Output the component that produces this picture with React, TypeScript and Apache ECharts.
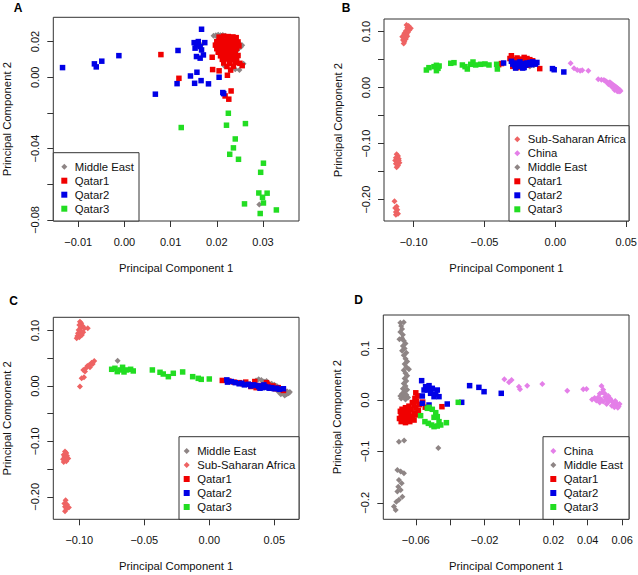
import React, { useEffect, useRef } from 'react';
import * as echarts from 'echarts';

type P = [number, number][];

const FONT = '"Liberation Sans", Arial, Helvetica, sans-serif';

const C_ME = '#8E8585';
const C_SSA = '#EE6363';
const C_CHINA = '#E47FE8';
const C_Q1 = '#F00000';
const C_Q2 = '#0000E6';
const C_Q3 = '#22DD22';

// ---------- Panel A ----------
const aMiddleEast: P = [
  [0.0193, 0.0232], [0.0198, 0.0236], [0.0203, 0.0238], [0.0208, 0.0235], [0.0213, 0.0237], [0.02, 0.0228], [0.0218, 0.0233],
  [0.025, 0.0188], [0.0255, 0.018], [0.0252, 0.017], [0.0246, 0.016], [0.0244, 0.015], [0.0237, 0.0148], [0.0245, 0.012],
  [0.0249, 0.0041], [0.0216, 0.0064], [0.024, 0.0045], [0.0166, 0.0181], [0.0292, -0.0714], [0.0258, 0.0075], [0.023, 0.013],
];
const aQatar1: P = [
  [0.0205, 0.0225], [0.0215, 0.023], [0.0225, 0.0228], [0.0235, 0.0226], [0.0242, 0.0222],
  [0.02, 0.02], [0.021, 0.0205], [0.0218, 0.0202], [0.0228, 0.0204], [0.0238, 0.02], [0.0246, 0.0198],
  [0.0197, 0.018], [0.0205, 0.0178], [0.0213, 0.0182], [0.0222, 0.018], [0.023, 0.0178], [0.024, 0.0182], [0.0248, 0.0176],
  [0.02, 0.016], [0.021, 0.0158], [0.022, 0.0162], [0.0228, 0.016], [0.0236, 0.0158], [0.0243, 0.0162],
  [0.0203, 0.014], [0.0212, 0.0142], [0.0221, 0.0138], [0.0232, 0.014], [0.024, 0.0138],
  [0.0208, 0.012], [0.0217, 0.0122], [0.0226, 0.0118], [0.0236, 0.012], [0.0246, 0.0122],
  [0.0212, 0.01], [0.0222, 0.0102], [0.0232, 0.0098], [0.0243, 0.01],
  [0.0215, 0.008], [0.0228, 0.0078], [0.024, 0.0082], [0.025, 0.0078],
  [0.0222, 0.006], [0.0236, 0.0062], [0.023, 0.004],
  [0.019, 0.0112], [0.0191, 0.0043], [0.0205, 0.0036], [0.0223, 0.0011], [0.0231, -0.0077], [0.0218, -0.0105],
  [0.0226, -0.0123], [0.0255, 0.0065], [0.0079, 0.0127], [0.0118, -0.0006],
];
const aQatar2: P = [
  [-0.0134, 0.0054], [-0.0065, 0.0075], [-0.0061, 0.0058], [-0.0049, 0.009], [-0.0012, 0.0121], [0.0067, -0.0095],
  [0.0116, 0.015], [0.0114, -0.0036], [0.0143, 0.0007], [0.0152, -0.0034], [0.0157, 0.0028], [0.0166, -0.0019],
  [0.0182, -0.0037], [0.0205, 0.0], [0.0167, 0.0269],
  [0.0151, 0.0194], [0.0156, 0.0181], [0.016, 0.02], [0.0164, 0.0172], [0.0153, 0.0163], [0.0174, 0.0194],
  [0.0167, 0.0153], [0.0156, 0.0116], [0.0164, 0.0107], [0.0171, 0.0125], [0.0213, -0.0086], [0.0215, -0.0092],
];
const aQatar3: P = [
  [0.0123, -0.0282], [0.0225, -0.0202], [0.0221, -0.0269], [0.0262, -0.026], [0.024, -0.0346], [0.0236, -0.0396],
  [0.0228, -0.0432], [0.0247, -0.046], [0.0301, -0.0482], [0.0295, -0.0533], [0.0291, -0.0649], [0.0309, -0.065],
  [0.0299, -0.0673], [0.0301, -0.0705], [0.026, -0.071], [0.0294, -0.0764], [0.0329, -0.0744],
];

// ---------- Panel B ----------
const bSubSaharan: P = [
  [-0.105, 0.112], [-0.1035, 0.11], [-0.1045, 0.107], [-0.102, 0.106], [-0.103, 0.103], [-0.1055, 0.101], [-0.104, 0.099],
  [-0.1065, 0.097], [-0.105, 0.095], [-0.107, 0.093], [-0.106, 0.09], [-0.1055, 0.087], [-0.1075, 0.085], [-0.1065, 0.082],
  [-0.107, 0.079], [-0.108, 0.091], [-0.1045, 0.092],
  [-0.112, -0.119], [-0.111, -0.122], [-0.1125, -0.125], [-0.1105, -0.127], [-0.113, -0.13], [-0.1115, -0.132],
  [-0.11, -0.134], [-0.1125, -0.136], [-0.111, -0.139], [-0.112, -0.142], [-0.1105, -0.13],
  [-0.1135, -0.203], [-0.112, -0.212], [-0.113, -0.215], [-0.1115, -0.218], [-0.1125, -0.222], [-0.111, -0.225], [-0.1125, -0.227],
];
const bChina: P = [
  [0.0108, 0.0435], [0.0132, 0.0345], [0.0155, 0.0315], [0.0175, 0.03], [0.019, 0.031], [0.0233, 0.03], [0.0303, 0.0149],
  [0.0325, 0.014], [0.0343, 0.0137],
  [0.036, 0.011], [0.037, 0.009], [0.038, 0.007], [0.0385, 0.0095], [0.039, 0.005], [0.0395, 0.0075], [0.04, 0.003],
  [0.0405, 0.0055], [0.041, 0.001], [0.0415, 0.0035], [0.042, -0.001], [0.0425, 0.002], [0.043, -0.003], [0.0435, 0.0],
  [0.044, -0.005], [0.0445, -0.002], [0.045, -0.007], [0.0455, -0.004], [0.046, -0.006], [0.0418, -0.004], [0.04, 0.001],
  [0.0375, 0.006], [0.0352, 0.012], [0.0437, -0.0065],
];
const bMiddleEast: P = [
  [-0.028, 0.042], [-0.025, 0.04], [-0.02, 0.042], [-0.018, 0.038], [-0.015, 0.04],
];
const bQatar1: P = [
  [-0.04, 0.041], [-0.038, 0.043], [-0.032, 0.052], [-0.031, 0.057], [-0.029, 0.05], [-0.03, 0.046], [-0.027, 0.053],
  [-0.026, 0.048], [-0.025, 0.044], [-0.024, 0.051], [-0.023, 0.047], [-0.022, 0.054], [-0.021, 0.049], [-0.02, 0.052],
  [-0.019, 0.046], [-0.018, 0.05], [-0.017, 0.044], [-0.016, 0.048], [-0.015, 0.043], [-0.03, 0.038], [-0.027, 0.036],
  [-0.011, 0.034], [-0.02, 0.04], [-0.023, 0.039],
];
const bQatar2: P = [
  [-0.0365, 0.044], [-0.031, 0.047], [-0.03, 0.042], [-0.0285, 0.039], [-0.0275, 0.044], [-0.026, 0.041], [-0.0245, 0.038],
  [-0.023, 0.035], [-0.022, 0.043], [-0.021, 0.04], [-0.02, 0.044], [-0.019, 0.042], [-0.018, 0.045], [-0.017, 0.041],
  [-0.016, 0.046], [-0.015, 0.044], [-0.014, 0.042], [-0.013, 0.045], [-0.025, 0.046], [-0.022, 0.036], [-0.002, 0.034],
  [-0.0008, 0.032], [0.006, 0.028], [-0.028, 0.035],
];
const bQatar3: P = [
  [-0.091, 0.0315], [-0.0892, 0.0357], [-0.0856, 0.0375], [-0.0839, 0.0399], [-0.0828, 0.0345], [-0.0839, 0.0304],
  [-0.082, 0.0387], [-0.0738, 0.0435], [-0.0715, 0.0446], [-0.0656, 0.0405], [-0.0637, 0.0375], [-0.0621, 0.0333],
  [-0.0597, 0.0417], [-0.0581, 0.0458], [-0.0562, 0.0405], [-0.0527, 0.0417], [-0.0496, 0.0423], [-0.0468, 0.0405],
  [-0.0409, 0.0333], [-0.0414, 0.0417],
];

// ---------- Panel C ----------
const cMiddleEast: P = [
  [-0.0705, 0.0457],
  [0.036, 0.01], [0.04, 0.011], [0.042, 0.008], [0.045, 0.006], [0.048, 0.004], [0.05, 0.002], [0.052, 0.0],
  [0.054, -0.003], [0.056, -0.006], [0.058, -0.008], [0.06, -0.01], [0.061, -0.013], [0.0595, -0.015], [0.057, -0.012],
  [0.055, -0.015], [0.062, -0.011], [0.053, -0.01], [0.044, 0.009], [0.038, 0.012], [0.058, -0.017],
];
const cSubSaharan: P = [
  [-0.0995, 0.116], [-0.0985, 0.113], [-0.1, 0.11], [-0.0975, 0.108], [-0.099, 0.105], [-0.096, 0.104], [-0.0935, 0.104],
  [-0.1005, 0.101], [-0.0985, 0.099], [-0.097, 0.097], [-0.101, 0.095], [-0.0995, 0.093], [-0.1015, 0.09], [-0.1, 0.088],
  [-0.102, 0.086], [-0.098, 0.092],
  [-0.0995, -0.001], [-0.0982, 0.0138], [-0.0964, 0.0156], [-0.0969, 0.0289], [-0.0949, 0.0319], [-0.0938, 0.0361],
  [-0.0923, 0.0379], [-0.0905, 0.0421], [-0.0885, 0.0451], [-0.0918, 0.0337], [-0.0897, 0.0397], [-0.0956, 0.0259],
  [-0.111, -0.118], [-0.11, -0.121], [-0.112, -0.124], [-0.1095, -0.126], [-0.1115, -0.128], [-0.1105, -0.13],
  [-0.1125, -0.132], [-0.1085, -0.131], [-0.111, -0.134], [-0.112, -0.137], [-0.11, -0.136],
  [-0.1105, -0.206], [-0.1115, -0.212], [-0.1095, -0.214], [-0.111, -0.218], [-0.108, -0.219], [-0.11, -0.222], [-0.111, -0.226],
];
const cQatar1: P = [
  [0.01, 0.01], [0.015, 0.009], [0.019, 0.007], [0.023, 0.006], [0.026, 0.004], [0.03, 0.003], [0.033, 0.002],
  [0.035, 0.008], [0.037, 0.0], [0.04, 0.001], [0.042, -0.002], [0.045, 0.003], [0.047, -0.004], [0.049, 0.0],
  [0.051, -0.005], [0.053, -0.003], [0.055, -0.006], [0.057, -0.008], [0.032, -0.001], [0.028, 0.007], [0.044, 0.006],
  [0.036, -0.003],
];
const cQatar2: P = [
  [0.0135, 0.011], [0.014, 0.007], [0.017, 0.008], [0.02, 0.006], [0.023, 0.004], [0.025, 0.005], [0.027, 0.002],
  [0.03, 0.003], [0.032, 0.0], [0.034, 0.002], [0.036, 0.001], [0.038, -0.001], [0.04, 0.0], [0.041, -0.003],
  [0.043, -0.001], [0.045, -0.002], [0.046, -0.004], [0.048, -0.003], [0.05, -0.005], [0.052, -0.004], [0.054, -0.006],
  [0.057, -0.005], [0.042, 0.002], [0.039, -0.004],
];
const cQatar3: P = [
  [-0.0751, 0.0301], [-0.0726, 0.0319], [-0.0708, 0.0259], [-0.0687, 0.0289], [-0.0667, 0.0337], [-0.0656, 0.0253],
  [-0.0636, 0.0289], [-0.0605, 0.0301], [-0.0585, 0.0271], [-0.0438, 0.0289], [-0.0379, 0.0247], [-0.0354, 0.0216],
  [-0.0315, 0.0168], [-0.0277, 0.0229], [-0.0205, 0.0253], [-0.0128, 0.0168], [-0.0085, 0.0138], [-0.0062, 0.012],
  [0.0, 0.0126],
];

// ---------- Panel D ----------
const dChina: P = [
  [-0.0085, 0.0402], [-0.0058, 0.0343], [-0.0043, 0.0389], [0.0, 0.0259], [0.0006, 0.0207], [0.0048, 0.0279],
  [0.0136, 0.0311], [0.0281, 0.0181], [0.0374, 0.0207], [0.0393, 0.0214],
  [0.048, 0.027], [0.049, 0.02], [0.047, 0.012], [0.046, 0.005], [0.044, 0.004], [0.0425, 0.001], [0.045, -0.001],
  [0.0475, 0.002], [0.05, 0.006], [0.051, 0.001], [0.049, -0.003], [0.052, -0.004], [0.054, -0.002], [0.053, 0.003],
  [0.055, -0.006], [0.056, -0.01], [0.057, -0.007], [0.058, -0.012], [0.0585, -0.008], [0.054, -0.011], [0.051, -0.008],
  [0.047, -0.005], [0.05, 0.012], [0.052, 0.008], [0.0555, -0.014], [0.0575, -0.015], [0.056, -0.002], [0.0485, 0.015],
];
const dMiddleEast: P = [
  [-0.069, 0.15], [-0.067, 0.151], [-0.0685, 0.144], [-0.068, 0.138], [-0.069, 0.132], [-0.0675, 0.127], [-0.068, 0.12],
  [-0.067, 0.115], [-0.066, 0.11], [-0.0675, 0.105], [-0.0665, 0.1], [-0.068, 0.096], [-0.0655, 0.092], [-0.067, 0.087],
  [-0.066, 0.08], [-0.065, 0.075], [-0.0665, 0.07], [-0.0655, 0.064], [-0.067, 0.058], [-0.066, 0.052], [-0.065, 0.047],
  [-0.0665, 0.042], [-0.0655, 0.037], [-0.067, 0.032], [-0.066, 0.027], [-0.0675, 0.022], [-0.065, 0.02], [-0.0665, 0.016],
  [-0.068, 0.012], [-0.0655, 0.01], [-0.067, 0.006], [-0.0685, 0.003], [-0.066, 0.001], [-0.0645, 0.005], [-0.069, 0.008],
  [-0.0695, 0.118], [-0.064, 0.06],
  [-0.0698, -0.081], [-0.0668, -0.079], [-0.0707, -0.136], [-0.0688, -0.139], [-0.0669, -0.1426], [-0.0698, -0.1555],
  [-0.0682, -0.162], [-0.0702, -0.1685], [-0.0688, -0.175], [-0.0707, -0.178], [-0.0698, -0.194], [-0.0713, -0.198],
  [-0.0727, -0.207], [-0.0717, -0.214], [-0.0469, -0.0933], [-0.0678, -0.188],
];
const dQatar1: P = [
  [-0.06, 0.014], [-0.059, 0.008], [-0.0605, 0.003], [-0.0595, -0.002], [-0.062, -0.005], [-0.061, -0.01], [-0.064, -0.012],
  [-0.066, -0.015], [-0.068, -0.018], [-0.069, -0.022], [-0.067, -0.024], [-0.065, -0.02], [-0.063, -0.018], [-0.06, -0.015],
  [-0.0585, -0.02], [-0.061, -0.025], [-0.064, -0.027], [-0.0665, -0.03], [-0.0685, -0.032], [-0.0695, -0.036],
  [-0.067, -0.038], [-0.0645, -0.035], [-0.062, -0.032], [-0.0595, -0.029], [-0.0635, -0.042], [-0.066, -0.044],
  [-0.0685, -0.042], [-0.061, -0.039], [-0.058, -0.009], [-0.0545, -0.014], [-0.0448, -0.013], [-0.056, -0.004],
];
const dQatar2: P = [
  [-0.0566, 0.0376], [-0.0543, 0.0259], [-0.0533, 0.0194], [-0.0523, 0.0279], [-0.0504, 0.0227], [-0.0494, 0.0065],
  [-0.0475, 0.0194], [-0.0484, 0.0117], [-0.0562, 0.0078], [-0.0552, 0.0194], [-0.0514, 0.013], [-0.0523, -0.0097],
  [-0.0417, -0.0078], [-0.0333, -0.0045], [-0.0287, 0.0279], [-0.0233, 0.0246], [-0.0203, 0.0162], [-0.0103, 0.013],
  [-0.0562, -0.0065], [-0.0465, 0.0065],
];
const dQatar3: P = [
  [-0.0572, -0.0305], [-0.0547, -0.0421], [-0.0527, -0.0454], [-0.0508, -0.0486], [-0.0494, -0.0518], [-0.0475, -0.0506],
  [-0.0455, -0.0486], [-0.0422, -0.0441], [-0.0523, -0.0143], [-0.0504, -0.0181], [-0.0484, -0.0246], [-0.0475, -0.0324],
  [-0.0494, -0.0337], [-0.0353, -0.0045], [-0.0533, -0.0162], [-0.0465, -0.0421],
];

// ---------- Axis ticks ----------
const aXTicks = [-0.01, 0, 0.01, 0.02, 0.03];
const aYTicks = [-0.08, -0.06, -0.04, -0.02, 0, 0.02];
const aYLabels = [-0.08, -0.04, 0, 0.02];
const bXTicks = [-0.1, -0.05, 0, 0.05];
const bYTicks = [-0.2, -0.15, -0.1, -0.05, 0, 0.05, 0.1];
const bYLabels = [-0.2, -0.1, 0, 0.1];
const cXTicks = [-0.1, -0.05, 0, 0.05];
const cYTicks = [-0.2, -0.15, -0.1, -0.05, 0, 0.05, 0.1];
const cYLabels = [-0.2, -0.1, 0, 0.1];
const dXTicks = [-0.06, -0.04, -0.02, 0, 0.02, 0.04, 0.06];
const dXLabels = [-0.06, -0.02, 0.02, 0.04, 0.06];
const dYTicks = [-0.2, -0.1, 0, 0.1];

const X_TITLE = 'Principal Component 1';
const Y_TITLE = 'Principal Component 2';

const fmt = (d: number) => (v: number) => {
  const s = Math.abs(v).toFixed(d);
  return (v < -1e-9 ? '\u2212' : '') + s;
};

interface Panel {
  letter: string;
  letterPos: [number, number];
  grid: { left: number; top: number; width: number; height: number };
  xr: [number, number];
  yr: [number, number];
  xTicks: number[];
  xLabels: number[];
  xDec: number;
  yTicks: number[];
  yLabels: number[];
  yDec: number;
  series: { name: string; data: P; symbol: string; color: string }[];
  legendBox: [number, number, number, number];
  legendPos: [number, number];
  legendItems: { name: string; icon: string }[];
}

const TEXT = '#111';
const LINE = '#333';

function App() {
  const ref = useRef<HTMLDivElement>(null);
  useEffect(() => {
    if (!ref.current) return;
    const chart = echarts.init(ref.current, undefined, { renderer: 'svg' });

    const panels: Panel[] = [
      {
        letter: 'A', letterPos: [18, 7.5],
        grid: { left: 53.3, top: 17.3, width: 245.7, height: 203.7 },
        xr: [-0.0154, 0.0378], yr: [-0.0806, 0.0336],
        xTicks: aXTicks, xLabels: aXTicks, xDec: 2,
        yTicks: aYTicks, yLabels: aYLabels, yDec: 2,
        series: [
          { name: 'Middle East', data: aMiddleEast, symbol: 'diamond', color: C_ME },
          { name: 'Qatar1', data: aQatar1, symbol: 'rect', color: C_Q1 },
          { name: 'Qatar2', data: aQatar2, symbol: 'rect', color: C_Q2 },
          { name: 'Qatar3', data: aQatar3, symbol: 'rect', color: C_Q3 },
        ],
        legendBox: [53.3, 152.7, 85.7, 68.3],
        legendPos: [61.3, 159.7],
        legendItems: [
          { name: 'Middle East', icon: 'diamond' }, { name: 'Qatar1', icon: 'rect' },
          { name: 'Qatar2', icon: 'rect' }, { name: 'Qatar3', icon: 'rect' },
        ],
      },
      {
        letter: 'B', letterPos: [346, 7.5],
        grid: { left: 384, top: 19, width: 245, height: 202 },
        xr: [-0.1209, 0.052], yr: [-0.2381, 0.1226],
        xTicks: bXTicks, xLabels: bXTicks, xDec: 2,
        yTicks: bYTicks, yLabels: bYLabels, yDec: 2,
        series: [
          { name: 'Sub-Saharan Africa', data: bSubSaharan, symbol: 'diamond', color: C_SSA },
          { name: 'China', data: bChina, symbol: 'diamond', color: C_CHINA },
          { name: 'Middle East', data: bMiddleEast, symbol: 'diamond', color: C_ME },
          { name: 'Qatar1', data: bQatar1, symbol: 'rect', color: C_Q1 },
          { name: 'Qatar2', data: bQatar2, symbol: 'rect', color: C_Q2 },
          { name: 'Qatar3', data: bQatar3, symbol: 'rect', color: C_Q3 },
        ],
        legendBox: [509, 125.7, 120, 95.3],
        legendPos: [514.3, 132.3],
        legendItems: [
          { name: 'Sub-Saharan Africa', icon: 'diamond' }, { name: 'China', icon: 'diamond' },
          { name: 'Middle East', icon: 'diamond' }, { name: 'Qatar1', icon: 'rect' },
          { name: 'Qatar2', icon: 'rect' }, { name: 'Qatar3', icon: 'rect' },
        ],
      },
      {
        letter: 'C', letterPos: [13.5, 300.5],
        grid: { left: 53.3, top: 317.3, width: 245.7, height: 202 },
        xr: [-0.12, 0.069], yr: [-0.2405, 0.1239],
        xTicks: cXTicks, xLabels: cXTicks, xDec: 2,
        yTicks: cYTicks, yLabels: cYLabels, yDec: 2,
        series: [
          { name: 'Middle East', data: cMiddleEast, symbol: 'diamond', color: C_ME },
          { name: 'Sub-Saharan Africa', data: cSubSaharan, symbol: 'diamond', color: C_SSA },
          { name: 'Qatar1', data: cQatar1, symbol: 'rect', color: C_Q1 },
          { name: 'Qatar2', data: cQatar2, symbol: 'rect', color: C_Q2 },
          { name: 'Qatar3', data: cQatar3, symbol: 'rect', color: C_Q3 },
        ],
        legendBox: [179, 436.7, 120, 82.6],
        legendPos: [183.7, 444],
        legendItems: [
          { name: 'Middle East', icon: 'diamond' }, { name: 'Sub-Saharan Africa', icon: 'diamond' },
          { name: 'Qatar1', icon: 'rect' }, { name: 'Qatar2', icon: 'rect' }, { name: 'Qatar3', icon: 'rect' },
        ],
      },
      {
        letter: 'D', letterPos: [358.7, 300],
        grid: { left: 383.3, top: 315, width: 245.7, height: 204.3 },
        xr: [-0.0789, 0.064], yr: [-0.232, 0.1653],
        xTicks: dXTicks, xLabels: dXLabels, xDec: 2,
        yTicks: dYTicks, yLabels: dYTicks, yDec: 1,
        series: [
          { name: 'China', data: dChina, symbol: 'diamond', color: C_CHINA },
          { name: 'Middle East', data: dMiddleEast, symbol: 'diamond', color: C_ME },
          { name: 'Qatar1', data: dQatar1, symbol: 'rect', color: C_Q1 },
          { name: 'Qatar2', data: dQatar2, symbol: 'rect', color: C_Q2 },
          { name: 'Qatar3', data: dQatar3, symbol: 'rect', color: C_Q3 },
        ],
        legendBox: [543, 436.7, 86, 82.6],
        legendPos: [550.3, 444],
        legendItems: [
          { name: 'China', icon: 'diamond' }, { name: 'Middle East', icon: 'diamond' },
          { name: 'Qatar1', icon: 'rect' }, { name: 'Qatar2', icon: 'rect' }, { name: 'Qatar3', icon: 'rect' },
        ],
      },
    ];

    const grids: any[] = [];
    const xAxes: any[] = [];
    const yAxes: any[] = [];
    const series: any[] = [];
    const legends: any[] = [];
    const graphics: any[] = [];

    panels.forEach((p, i) => {
      grids.push({
        ...p.grid, show: true, borderColor: LINE, borderWidth: 1,
        backgroundColor: 'transparent', containLabel: false, outerBoundsMode: 'none',
      });
      xAxes.push({
        gridIndex: i, type: 'value', min: p.xr[0], max: p.xr[1], position: 'bottom',
        axisLine: { show: false, onZero: false }, splitLine: { show: false },
        axisTick: { show: true, customValues: p.xTicks, length: 6, lineStyle: { color: LINE, width: 1 } },
        axisLabel: {
          customValues: p.xLabels, formatter: fmt(p.xDec), margin: 15,
          fontSize: 11, color: TEXT, fontFamily: FONT,
        },
      });
      yAxes.push({
        gridIndex: i, type: 'value', min: p.yr[0], max: p.yr[1], position: 'left',
        axisLine: { show: false, onZero: false }, splitLine: { show: false },
        axisTick: { show: true, customValues: p.yTicks, length: 6, lineStyle: { color: LINE, width: 1 } },
        axisLabel: {
          customValues: p.yLabels, formatter: fmt(p.yDec), margin: 13, rotate: 90,
          fontSize: 11, color: TEXT, fontFamily: FONT,
        },
      });
      p.series.forEach((s) => {
        series.push({
          type: 'scatter', name: s.name, data: s.data, xAxisIndex: i, yAxisIndex: i,
          symbol: s.symbol, symbolSize: s.symbol === 'rect' ? 5.5 : 6,
          itemStyle: { color: s.color, opacity: 1 }, silent: true,
          emphasis: { disabled: true },
        });
      });
      legends.push({
        orient: 'vertical', left: p.legendPos[0], top: p.legendPos[1],
        itemWidth: 6, itemHeight: 6, itemGap: 0, padding: 0, selectedMode: false,
        textStyle: { fontSize: 11.3, lineHeight: 14, color: TEXT, fontFamily: FONT, padding: [0, 0, 0, 2.5] },
        data: p.legendItems, z: 10,
      });
      const [bx, by, bw, bh] = p.legendBox;
      graphics.push({
        type: 'rect', z: 5, silent: true,
        shape: { x: bx, y: by, width: bw, height: bh },
        style: { fill: '#fff', stroke: LINE, lineWidth: 1 },
      });
      graphics.push({
        type: 'text', z: 5, silent: true, x: p.letterPos[0], y: p.letterPos[1],
        style: {
          text: p.letter, fontSize: 12, fontWeight: 'bold', fill: '#000', fontFamily: FONT,
          align: 'center', verticalAlign: 'middle',
        },
      });
      const cx = p.grid.left + p.grid.width / 2;
      const cy = p.grid.top + p.grid.height / 2;
      graphics.push({
        type: 'text', z: 5, silent: true, x: cx, y: p.grid.top + p.grid.height + 47,
        style: {
          text: X_TITLE, fontSize: 11.3, fill: TEXT, fontFamily: FONT,
          align: 'center', verticalAlign: 'middle',
        },
      });
      graphics.push({
        type: 'text', z: 5, silent: true, x: p.grid.left - 46, y: cy, rotation: Math.PI / 2,
        style: {
          text: Y_TITLE, fontSize: 11.3, fill: TEXT, fontFamily: FONT,
          align: 'center', verticalAlign: 'middle',
        },
      });
    });

    chart.setOption({
      animation: false,
      backgroundColor: '#fff',
      grid: grids,
      xAxis: xAxes,
      yAxis: yAxes,
      series,
      legend: legends,
      graphic: { elements: graphics },
    });
    return () => chart.dispose();
  }, []);

  return (
    <div
      ref={ref}
      style={{ position: 'absolute', left: 0, top: 0, width: 638, height: 575 }}
    />
  );
}

export default App;
